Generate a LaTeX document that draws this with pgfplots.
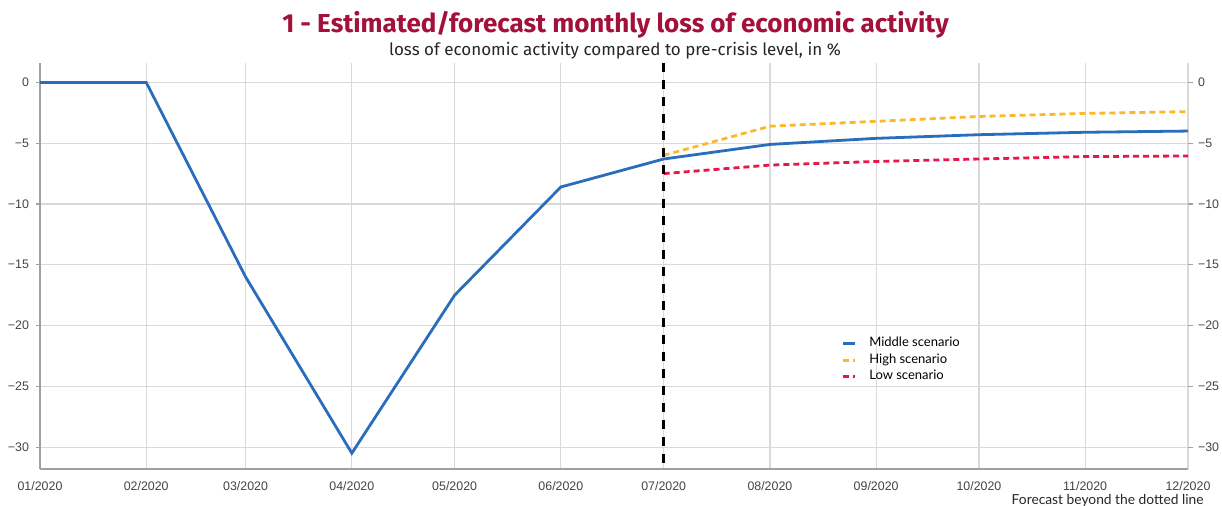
\documentclass[border=0pt]{standalone}
\usepackage{pgfplots}
\pgfplotsset{compat=1.18}
\usepackage{fontspec}
\setmainfont{Liberation Sans}
\newfontfamily\titlefont{Fira Sans}
\newfontfamily\legfont{Lato}
\definecolor{tcol}{HTML}{A3103C}
\definecolor{cblue}{HTML}{2A6EBB}
\definecolor{corange}{HTML}{FBB829}
\definecolor{cred}{HTML}{E8174B}
\definecolor{gridc}{HTML}{D9D9D9}
\definecolor{axc}{HTML}{A0A0A0}
\definecolor{labc}{HTML}{444444}
\begin{document}
\begin{tikzpicture}
\useasboundingbox (-20pt,-18.5pt) rectangle (591pt,234.5pt);
\begin{axis}[
  at={(0,0)}, anchor=south west,
  scale only axis, width=574pt, height=203pt,
  xmin=0, xmax=335, ymin=-31.8, ymax=1.6,
  xtick={0,31,60,91,121,152,182,213,244,274,305,335},
  xticklabels={01/2020,02/2020,03/2020,04/2020,05/2020,06/2020,07/2020,08/2020,09/2020,10/2020,11/2020,12/2020},
  ytick={0,-5,-10,-15,-20,-25,-30},
  yticklabels={0,−5,−10,−15,−20,−25,−30},
  grid=major, major grid style={gridc, line width=0.6pt},
  axis x line*=bottom, axis y line*=left,
  axis line style={axc, line width=0.8pt, -},
  xtick style={draw=none},
  ytick style={axc, line width=0.6pt}, tick align=outside, major tick length=2pt,
  ticklabel style={font=\fontsize{6.2}{7}\selectfont, text=labc},
  xticklabel style={yshift=-0.5pt},
  clip=false,
  legend style={at={(0.6926,0.345)}, anchor=north west, draw=none, fill=none,
    font=\legfont\fontsize{6.5}{7.5}\selectfont, row sep=-2pt},
  legend cell align=left,
  legend image code/.code={\draw[#1] (0pt,0pt) -- (6pt,0pt); \path (10.5pt,0pt);},
]
\addplot[cblue, line width=1.4pt] coordinates {(0,0) (31,0) (60,-16) (91,-30.5) (121,-17.5) (152,-8.6) (182,-6.3) (213,-5.1) (244,-4.6) (274,-4.3) (305,-4.1) (335,-4.0)};
\addlegendentry{Middle scenario}
\addplot[corange, line width=1.4pt, dash pattern=on 3pt off 2pt] coordinates {(182,-6.0) (213,-3.6) (244,-3.2) (274,-2.8) (305,-2.55) (335,-2.4)};
\addlegendentry{High scenario}
\addplot[cred, line width=1.4pt, dash pattern=on 3pt off 2pt] coordinates {(182,-7.5) (213,-6.8) (244,-6.5) (274,-6.3) (305,-6.1) (335,-6.05)};
\addlegendentry{Low scenario}
\addplot[black, line width=1.5pt, dash pattern=on 4.5pt off 4pt, forget plot] coordinates {(182,1.6) (182,-31.8)};
\end{axis}
\begin{axis}[
  at={(0,0)}, anchor=south west,
  scale only axis, width=574pt, height=203pt,
  xmin=0, xmax=335, ymin=-31.8, ymax=1.6,
  hide x axis,
  axis y line*=right, axis line style={draw=none},
  ytick={0,-5,-10,-15,-20,-25,-30},
  yticklabels={0,−5,−10,−15,−20,−25,−30},
  ytick style={axc, line width=0.6pt}, tick align=outside, major tick length=2.5pt,
  yticklabel style={font=\fontsize{6.2}{7}\selectfont, text=labc, xshift=-1pt},
]
\end{axis}
\node[font=\titlefont\bfseries\fontsize{13}{15}\selectfont, text=tcol] at (287.75pt,222pt) {1 - Estimated/forecast monthly loss of economic activity};
\node[font=\titlefont\fontsize{8.5}{10}\selectfont, text=black!85] at (287.5pt,209pt) {loss of economic activity compared to pre-crisis level, in \%};
\node[font=\legfont\fontsize{6.9}{8}\selectfont, text=black!85, anchor=east, inner sep=0pt] at (582pt,-16pt) {Forecast beyond the dotted line};
\end{tikzpicture}
\end{document}
